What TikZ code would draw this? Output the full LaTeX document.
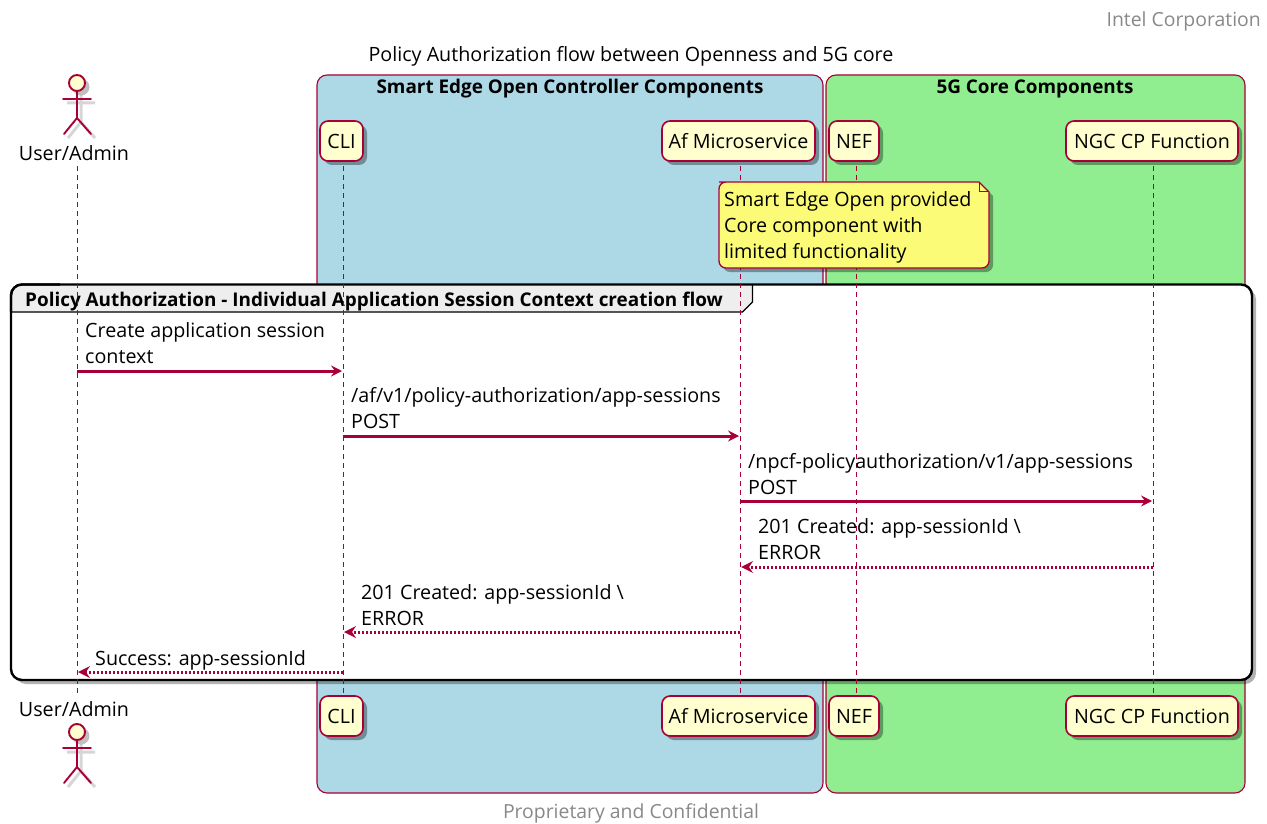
\documentclass[tikz,border=0pt]{standalone}
\usepackage{fontspec}
\setmainfont{Open Sans}
\usetikzlibrary{arrows.meta,shadows,shapes.misc}
\definecolor{seqline}{HTML}{A80036}
\definecolor{partfill}{HTML}{FEFECE}
\definecolor{notefill}{HTML}{FBFB77}
\definecolor{tabfill}{HTML}{EEEEEE}
\definecolor{edgeblue}{HTML}{ADD8E6}
\definecolor{coregreen}{HTML}{90EE90}
\definecolor{graytext}{HTML}{888888}
\tikzset{
  lbl/.style={inner sep=0pt, font=\fontsize{19.7}{26}\selectfont, align=left, text=black},
  boxtitle/.style={inner sep=0pt, font=\fontsize{18.9}{24}\selectfont\bfseries},
  grayt/.style={inner sep=0pt, font=\fontsize{19.4}{24}\selectfont, text=graytext},
  sbox/.style={draw=seqline, line width=1.1pt, rounded corners=10pt},
  part/.style={draw=seqline, fill=partfill, line width=1.6pt, rounded corners=8pt, minimum height=40pt,
               inner sep=0pt, font=\fontsize{19.7}{24}\selectfont,
               drop shadow={shadow xshift=4pt, shadow yshift=-4pt, fill=black, opacity=0.35}},
  life/.style={draw=seqline, line width=1pt, dash pattern=on 5pt off 4pt},
  msg/.style={draw=seqline, line width=3pt, -{Stealth[length=11pt, width=11pt, inset=4pt]}},
  rsp/.style={draw=seqline, line width=3pt, dash pattern=on 2.4pt off 1.6pt,
              -{Stealth[length=12pt, width=12pt, inset=4pt, line width=0pt]}},
  fig/.style={draw=seqline, line width=1.9pt, line cap=round},
  figsh/.style={draw=black, opacity=0.16, line width=3pt},
}
% stick figure with its head at #1
\newcommand{\stickman}[1]{
  \begin{scope}[shift={(#1)}]
    \fill[black, opacity=0.25] (4,4) circle (8.5);
    \draw[figsh] (-10,20) -- (18,20) (4,12) -- (4,39) (-9,55) -- (4,39) -- (18,55);
    \draw[fig, fill=partfill] (0,0) circle (8);
    \draw[fig] (0,8) -- (0,35) (-14,16) -- (14,16) (-13,51) -- (0,35) -- (14,51);
  \end{scope}
}
\begin{document}
\begin{tikzpicture}[x=1pt, y=-1pt]
  \useasboundingbox (0,0) rectangle (1267,824);
  % header and footer
  \node[grayt, anchor=east] (hdr) at (1261,21.5) {Intel Corporation};
  \node[lbl] (ttl) at (631,56.5) {Policy Authorization flow between Openness and 5G core};
  \node[grayt] (ftr) at (631,813) {Proprietary and Confidential};
  % boxes
  \draw[sbox, fill=edgeblue] (317,75) rectangle (823,793);
  \draw[sbox, fill=coregreen] (826,75) rectangle (1245,793);
  \node[boxtitle] (edget) at (570,89) {Smart Edge Open Controller Components};
  \node[boxtitle] (coret) at (1035,89) {5G Core Components};
  % group frame
  \draw[draw=black, fill=white, line width=2.4pt, rounded corners=11pt,
        drop shadow={shadow xshift=4pt, shadow yshift=-4pt, fill=black, opacity=0.3}]
    (11,284.5) rectangle (1252,680);
  \draw[draw=black, fill=tabfill, line width=1.2pt]
    (11.5,312) -- (11.5,296) [rounded corners=10pt] -- (11.5,285) [sharp corners] -- (752.5,285) -- (752.5,302) -- (742.5,312) -- cycle;
  \draw[draw=black, line width=2.4pt, rounded corners=11pt] (11,312) -- (11,284.5) -- (60,284.5);
  \node[boxtitle, anchor=west] (grp) at (25,301.5)
    {Policy Authorization - Individual Application Session Context creation flow};
  % participants
  \foreach \n/\x/\w/\t in {cli/341.5/43/CLI, af/738.5/153/Af Microservice, nef/854/50/NEF, ngc/1152/172/NGC CP Function} {
    \node[part, minimum width=\w pt] (\n T) at (\x,141) {\t};
    \node[part, minimum width=\w pt] (\n B) at (\x,716) {\t};
  }
  \node[lbl, anchor=center] (usrT) at (74,153) {User/Admin};
  \node[lbl, anchor=center] (usrB) at (74,709) {User/Admin};
  \stickman{77,83}
  \stickman{77,732}
  % lifelines
  \coordinate (usrS) at (77,166);
  \coordinate (usrE) at (77,696);
  \coordinate (cliS) at (343,166);
  \coordinate (cliE) at (343,696);
  \coordinate (afS) at (740,166);
  \coordinate (afE) at (740,696);
  \coordinate (nefS) at (856,166);
  \coordinate (nefE) at (856,696);
  \coordinate (ngcS) at (1153,166);
  \coordinate (ngcE) at (1153,696);
  \foreach \n in {usr,cli,af,nef,ngc} \draw[life] (\n S) -- (\n E);
  % note
  \draw[draw=seqline, fill=notefill, line width=1.3pt, rounded corners=7pt,
        drop shadow={shadow xshift=4pt, shadow yshift=-4pt, fill=black, opacity=0.35}]
    (719,182) [sharp corners] -- (979,182) -- (989,192) [rounded corners=7pt] -- (989,268) -- (719,268) -- (719,182) -- (730,182);
  \draw[draw=seqline, line width=1pt] (979,182) -- (979,192) -- (989,192);
  \node[lbl, anchor=west] (notet) at (724,227) {Smart Edge Open provided\\Core component with\\limited functionality};
  % messages
  \foreach \i/\a/\b/\y in {1/77/342/371, 2/343/739/436, 3/740/1152/501}{
    \coordinate (m\i a) at (\a,\y);
    \coordinate (m\i b) at (\b,\y);
    \draw[msg] (m\i a) -- (m\i b);
  }
  \foreach \i/\a/\b/\y in {4/1153/741/567, 5/740/344/632, 6/343/78/672}{
    \coordinate (m\i a) at (\a,\y);
    \coordinate (m\i b) at (\b,\y);
    \draw[rsp] (m\i a) -- (m\i b);
  }
  \node[lbl, anchor=west] (l1) at (85,343) {Create application session\\context};
  \node[lbl, anchor=west] (l2) at (351,408) {/af/v1/policy-authorization/app-sessions\\POST};
  \node[lbl, anchor=west] (l3) at (748,474) {/npcf-policyauthorization/v1/app-sessions\\POST};
  \node[lbl, anchor=west] (l4) at (758,539) {201 Created: app-sessionId \textbackslash\\ERROR};
  \node[lbl, anchor=west] (l5) at (361,605) {201 Created: app-sessionId \textbackslash\\ERROR};
  \node[lbl, anchor=west] (l6) at (95,660) {Success: app-sessionId};
\end{tikzpicture}
\end{document}
